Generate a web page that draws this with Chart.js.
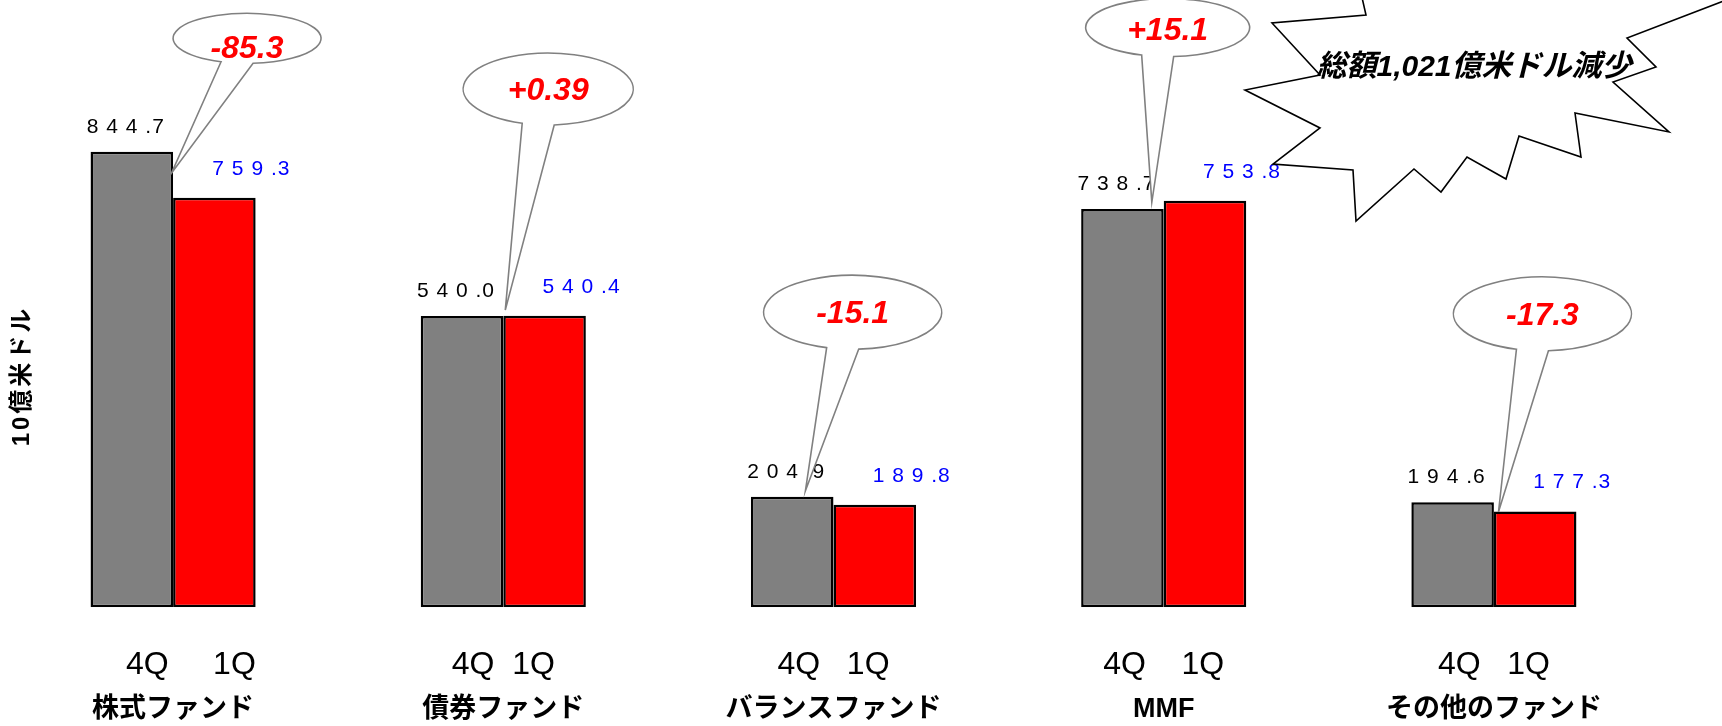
<!DOCTYPE html>
<html>
<head>
<meta charset="utf-8">
<script src="https://cdn.jsdelivr.net/npm/chart.js@4.4.1/dist/chart.umd.min.js"></script>
<style>
  html, body { margin: 0; padding: 0; background: #fff; }
  #chartBox { width: 1722px; height: 726px; position: relative; }
</style>
</head>
<body>
<div id="chartBox"><canvas id="myChart"></canvas></div>
<script>
const categories = ['株式ファンド', '債券ファンド', 'バランスファンド', 'MMF', 'その他のファンド'];
const quarterLabels = ['    4Q     1Q', '4Q  1Q', '4Q   1Q', '4Q    1Q', '4Q   1Q'];
const q4Values = [844.7, 540.0, 204.9, 738.7, 194.6];
const q1Values = [759.3, 540.4, 189.8, 753.8, 177.3];
const changeLabels = ['-85.3', '+0.39', '-15.1', '+15.1', '-17.3'];
const yAxisTitle = '10億米ドル';
const totalNote = '総額1,021億米ドル減少';

const LATIN = '"Liberation Sans", Arial, "Noto Sans CJK JP", sans-serif';

// speech bubbles: centre and tip given in category units / axis values
const bubbles = [
    { dx: 0.224, value: 1055, rx: 74, ry: 25, textDy: 11, tipDx: -0.005, tipValue: 805 },
    { dx: 0.136, value: 961, rx: 85, ry: 36, textDy: 2, tipDx: 0.006, tipValue: 551 },
    { dx: 0.058, value: 547, rx: 89, ry: 37, textDy: 2, tipDx: -0.085, tipValue: 216 },
    { dx: 0.012, value: 1075, rx: 82, ry: 29, textDy: 4, tipDx: -0.036, tipValue: 751 },
    { dx: 0.147, value: 544, rx: 89, ry: 37, textDy: 2, tipDx: 0.014, tipValue: 177 }
];

// outline of the "explosion" shape (canvas pixels)
const burstPoints = [
    [1450, -60], [1358, -20], [1366, 15], [1272, 23], [1320, 75], [1245, 90], [1320, 128],
    [1273, 164], [1353, 170], [1356, 221], [1414, 169], [1441, 192], [1467, 157],
    [1506, 179], [1519, 136], [1581, 157], [1575, 113], [1669, 132], [1613, 82],
    [1656, 67], [1627, 38], [1760, -13], [1700, -60]
];
const burstText = { x: 1474, y: 68 };

// "844.7" -> "8 4 4 .7"
function spaced(v) {
    const parts = v.toFixed(1).split('.');
    return parts[0].split('').join(' ') + ' .' + parts[1];
}

const annotate = {
    id: 'annotate',
    afterDatasetsDraw(chart) {
        const ctx = chart.ctx;
        const xs = chart.scales.x;
        const ys = chart.scales.y;
        const grayBars = chart.getDatasetMeta(0).data;
        const redBars = chart.getDatasetMeta(1).data;

        // value labels
        ctx.save();
        ctx.font = '21px ' + LATIN;
        ctx.letterSpacing = '1px';
        ctx.textAlign = 'center';
        ctx.textBaseline = 'middle';
        grayBars.forEach((bar, i) => {
            ctx.fillStyle = '#000000';
            ctx.fillText(spaced(q4Values[i]), bar.x - 6, bar.y - 25);
        });
        redBars.forEach((bar, i) => {
            ctx.fillStyle = '#0000ff';
            ctx.fillText(spaced(q1Values[i]), bar.x + 37, bar.y - 29);
        });
        ctx.restore();

        // bubbles with the change
        bubbles.forEach((b, i) => {
            const cx = xs.getPixelForValue(i + b.dx);
            const cy = ys.getPixelForValue(b.value);
            const tx = xs.getPixelForValue(i + b.tipDx);
            const ty = ys.getPixelForValue(b.tipValue);
            const t1 = Math.acos(-26 / b.rx);
            const t2 = Math.acos(6 / b.rx);
            ctx.save();
            ctx.beginPath();
            ctx.ellipse(cx, cy, b.rx, b.ry, 0, t1, t2, false);
            ctx.lineTo(tx, ty);
            ctx.closePath();
            ctx.fillStyle = '#ffffff';
            ctx.fill();
            ctx.strokeStyle = '#808080';
            ctx.lineWidth = 1.6;
            ctx.stroke();
            ctx.font = 'italic bold 32px ' + LATIN;
            ctx.fillStyle = '#ff0000';
            ctx.textAlign = 'center';
            ctx.textBaseline = 'middle';
            ctx.fillText(changeLabels[i], cx, cy + b.textDy);
            ctx.restore();
        });
    },
    afterDraw(chart) {
        const ctx = chart.ctx;

        // y axis title
        ctx.save();
        ctx.translate(22, 376);
        ctx.rotate(-Math.PI / 2);
        ctx.font = 'bold 24px ' + LATIN;
        ctx.letterSpacing = '3px';
        ctx.fillStyle = '#000';
        ctx.textAlign = 'center';
        ctx.textBaseline = 'middle';
        ctx.fillText(yAxisTitle, 0, 0);
        ctx.restore();

        // explosion with the total
        ctx.save();
        ctx.beginPath();
        burstPoints.forEach((p, k) => k ? ctx.lineTo(p[0], p[1]) : ctx.moveTo(p[0], p[1]));
        ctx.closePath();
        ctx.fillStyle = '#ffffff';
        ctx.fill();
        ctx.strokeStyle = '#000000';
        ctx.lineWidth = 1.6;
        ctx.stroke();
        ctx.font = 'italic bold 30px ' + LATIN;
        ctx.fillStyle = '#000000';
        ctx.textAlign = 'center';
        ctx.textBaseline = 'middle';
        ctx.fillText(totalNote, burstText.x, burstText.y);
        ctx.restore();
    }
};

const myChart = new Chart(document.getElementById('myChart'), {
    type: 'bar',
    data: {
        labels: quarterLabels,
        datasets: [{
            label: '4Q',
            data: q4Values,
            backgroundColor: '#808080',
            borderColor: '#000000',
            borderWidth: 2.5,
            borderSkipped: false
        }, {
            label: '1Q',
            data: q1Values,
            backgroundColor: '#ff0000',
            borderColor: '#000000',
            borderWidth: 2.5,
            borderSkipped: false
        }]
    },
    options: {
        responsive: true,
        maintainAspectRatio: false,
        animation: false,
        devicePixelRatio: 1,
        layout: { padding: { left: 8, right: 63, top: 68, bottom: 0 } },
        datasets: { bar: { categoryPercentage: 0.5, barPercentage: 1.0 } },
        plugins: { legend: { display: false }, tooltip: { enabled: false } },
        scales: {
            x: {
                offset: true,
                grid: { display: false, drawTicks: true, tickLength: 39, tickColor: 'rgba(0,0,0,0)' },
                border: { display: false },
                ticks: {
                    color: '#000',
                    font: { family: LATIN, size: 32 },
                    padding: 0,
                    autoSkip: false,
                    maxRotation: 0
                }
            },
            x2: {
                type: 'category',
                position: 'bottom',
                labels: categories,
                offset: true,
                grid: { display: false, drawTicks: true, tickLength: 9, tickColor: 'rgba(0,0,0,0)' },
                border: { display: false },
                ticks: {
                    color: '#000',
                    font: { family: LATIN, size: 27, weight: 'bold' },
                    padding: 0,
                    autoSkip: false,
                    maxRotation: 0
                }
            },
            y: { display: false, min: 0, max: 1000 }
        }
    },
    plugins: [annotate]
});
</script>
</body>
</html>
